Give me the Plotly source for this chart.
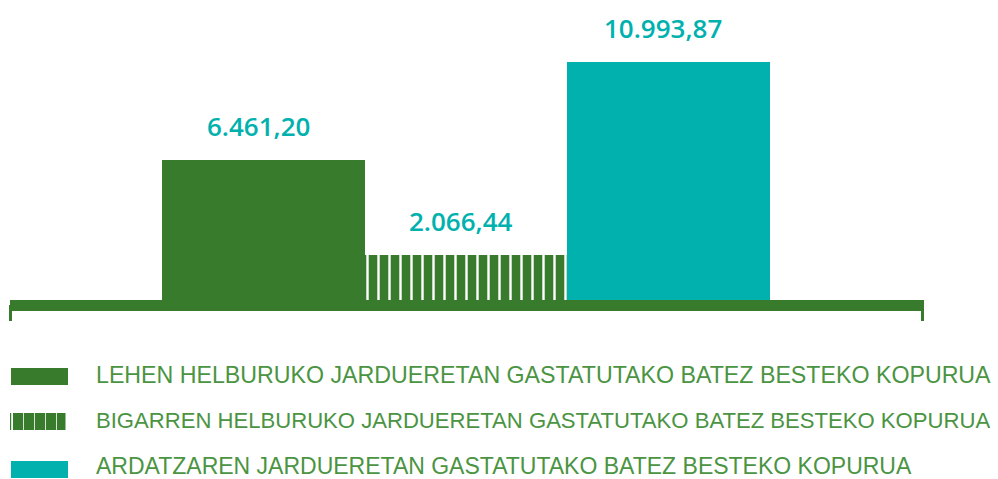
import plotly.graph_objects as go

categories = ["LEHEN", "BIGARREN", "ARDATZA"]
values = [6461.20, 2066.44, 10993.87]
legend_labels = [
    "LEHEN HELBURUKO JARDUERETAN GASTATUTAKO BATEZ BESTEKO KOPURUA",
    "BIGARREN HELBURUKO JARDUERETAN GASTATUTAKO BATEZ BESTEKO KOPURUA",
    "ARDATZAREN JARDUERETAN GASTATUTAKO BATEZ BESTEKO KOPURUA",
]
legend_sizes = [23.2, 22.1, 23]

GREEN = "#397b2d"
TEAL = "#00b1ae"
LEG_TXT = "#4a9442"

W, H = 998, 479
ML, MR, MT, MB = 10, 74, 20, 179
PW, PH = W - ML - MR, H - MT - MB


def px(x):
    return (x - ML) / PW


def py(y):
    return (H - MB - y) / PH


def fmt(v):
    s = f"{v:,.2f}"
    return s.replace(",", "X").replace(".", ",").replace("X", ".")


fig = go.Figure()
fig.add_trace(go.Bar(x=[categories[0]], y=[values[0]], marker=dict(color=GREEN, line=dict(width=0)),
                     width=1, showlegend=False, hoverinfo="skip"))
fig.add_trace(go.Bar(x=[categories[1]], y=[values[1]],
                     marker=dict(color=GREEN, line=dict(width=0),
                                 pattern=dict(shape="|", fgcolor="white", bgcolor=GREEN,
                                              size=11, solidity=0.22, fillmode="replace")),
                     width=1, showlegend=False, hoverinfo="skip"))
fig.add_trace(go.Bar(x=[categories[2]], y=[values[2]], marker=dict(color=TEAL, line=dict(width=0)),
                     width=1, showlegend=False, hoverinfo="skip"))

for c, v in zip(categories, values):
    fig.add_annotation(x=c, y=v, text=fmt(v), showarrow=False, yanchor="middle",
                       yshift=34, xshift=-5,
                       font=dict(family="Open Sans, Arial", size=26, color=TEAL, weight=600))

shapes = []
# baseline axis
shapes.append(dict(type="rect", xref="paper", yref="paper", x0=px(10), x1=px(924),
                   y0=py(311), y1=py(300), fillcolor=GREEN, line=dict(width=0), layer="above"))
shapes.append(dict(type="rect", xref="paper", yref="paper", x0=px(9), x1=px(12),
                   y0=py(321), y1=py(305), fillcolor=GREEN, line=dict(width=0)))
shapes.append(dict(type="rect", xref="paper", yref="paper", x0=px(921), x1=px(924),
                   y0=py(321), y1=py(305), fillcolor=GREEN, line=dict(width=0)))

# legend swatches
rows = [(368, 385), (413, 430), (461, 478)]
text_offsets = [1.5, 1.5, 3.5]
shapes.append(dict(type="rect", xref="paper", yref="paper", x0=px(11), x1=px(68),
                   y0=py(rows[0][1]), y1=py(rows[0][0]), fillcolor=GREEN, line=dict(width=0)))
for a, b in [(10, 11.2), (13, 23.2), (24, 34.2), (35, 45.2), (46, 56.2), (57, 65.5)]:
    shapes.append(dict(type="rect", xref="paper", yref="paper", x0=px(a), x1=px(b),
                       y0=py(rows[1][1]), y1=py(rows[1][0]), fillcolor=GREEN, line=dict(width=0)))
shapes.append(dict(type="rect", xref="paper", yref="paper", x0=px(11), x1=px(68),
                   y0=py(rows[2][1]), y1=py(rows[2][0]), fillcolor=TEAL, line=dict(width=0)))

for lab, sz, off, (a, b) in zip(legend_labels, legend_sizes, text_offsets, rows):
    fig.add_annotation(x=px(95), y=py((a + b) / 2 - off), xref="paper", yref="paper", text=lab,
                       showarrow=False, xanchor="left", yanchor="middle", height=24,
                       valign="middle", borderpad=0,
                       font=dict(family="Liberation Sans, Arial", size=sz, color=LEG_TXT))

ymax = max(values) * PH / 238.0
bar_w = 202.5
x0 = -(263.25 - ML) / bar_w
x1 = x0 + PW / bar_w

fig.update_layout(
    width=W, height=H, margin=dict(l=ML, r=MR, t=MT, b=MB),
    paper_bgcolor="white", plot_bgcolor="white",
    bargap=0, barmode="overlay", shapes=shapes,
    xaxis=dict(range=[x0, x1], visible=False, type="category"),
    yaxis=dict(range=[0, ymax], visible=False),
)

fig.write_html("out.html", config={"displayModeBar": False, "staticPlot": True})
with open("out.html", encoding="utf-8") as f:
    html = f.read()
html = html.replace("<head>", "<head><style>html,body{margin:0;padding:0;overflow:hidden;}</style>", 1)
with open("out.html", "w", encoding="utf-8") as f:
    f.write(html)
